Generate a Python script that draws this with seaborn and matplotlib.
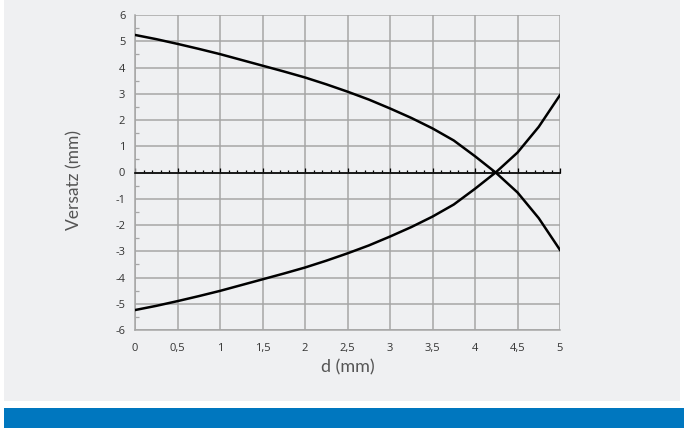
import matplotlib
matplotlib.use("Agg")
import matplotlib.pyplot as plt
from matplotlib.patches import Rectangle
from matplotlib.ticker import FixedLocator, MultipleLocator
import seaborn as sns
import pandas as pd

# data
d_mm = [0, 0.25, 0.5, 0.75, 1, 1.25, 1.5, 1.75, 2, 2.25, 2.5, 2.75, 3,
        3.25, 3.5, 3.75, 4, 4.25, 4.5, 4.75, 5]
upper = [5.24, 5.08, 4.9, 4.71, 4.51, 4.29, 4.07, 3.85, 3.62, 3.36, 3.08,
         2.78, 2.44, 2.08, 1.68, 1.22, 0.62, -0.02, -0.76, -1.74, -2.95]
lower = [-5.24, -5.08, -4.9, -4.71, -4.51, -4.29, -4.07, -3.85, -3.62, -3.36,
         -3.08, -2.78, -2.44, -2.08, -1.68, -1.22, -0.62, 0.02, 0.76, 1.74, 2.95]
x_ticks = [0, 0.5, 1, 1.5, 2, 2.5, 3, 3.5, 4, 4.5, 5]
x_tick_labels = ["0", "0,5", "1", "1,5", "2", "2,5", "3", "3,5", "4", "4,5", "5"]
y_ticks = [-6, -5, -4, -3, -2, -1, 0, 1, 2, 3, 4, 5, 6]
y_tick_labels = [str(v) for v in y_ticks]

df = pd.DataFrame({
    "d": d_mm * 2,
    "v": upper + lower,
    "curve": ["upper"] * len(d_mm) + ["lower"] * len(d_mm),
})

W, H = 684, 428
fig = plt.figure(figsize=(W / 100, H / 100), dpi=100)
fig.patch.set_facecolor("white")

GRAY_BG = "#eff0f2"
BLUE = "#0077bf"
GRID = "#a6a6a6"
TXT = "#333333"
FAM = ["Open Sans", "DejaVu Sans"]

fig.patches.append(Rectangle((4 / W, 1 - 401 / H), 676 / W, 401 / H,
                             transform=fig.transFigure, facecolor=GRAY_BG,
                             edgecolor="none", zorder=-10))
fig.patches.append(Rectangle((4 / W, 0), 680 / W, 20 / H,
                             transform=fig.transFigure, facecolor=BLUE,
                             edgecolor="none", zorder=-10))

ax = fig.add_axes([135 / W, 1 - 330 / H, 425 / W, 315 / H])
ax.set_facecolor("none")

sns.lineplot(data=df, x="d", y="v", units="curve", estimator=None,
             color="black", linewidth=1.8, ax=ax, sort=False, zorder=5)
for ln in ax.get_lines():
    ln.set_solid_joinstyle("round")

ax.set_xlim(0, 5)
ax.set_ylim(-6, 6)
ax.xaxis.set_major_locator(FixedLocator(x_ticks))
ax.set_xticklabels(x_tick_labels)
ax.yaxis.set_major_locator(FixedLocator(y_ticks))
ax.set_yticklabels(y_tick_labels)
ax.yaxis.set_minor_locator(MultipleLocator(0.5))
ax.xaxis.set_minor_locator(MultipleLocator(0.1))

ax.grid(True, which="major", color=GRID, linewidth=1.1, zorder=0)
ax.set_axisbelow(True)

for s in ["left", "bottom", "right"]:
    ax.spines[s].set_color(GRID)
    ax.spines[s].set_linewidth(1.1)
ax.spines["right"].set_visible(False)
# zero line carries the fine ticks
ax.spines["top"].set_position(("data", 0))
ax.spines["top"].set_color("black")
ax.spines["top"].set_linewidth(1.2)
ax.spines["top"].set_zorder(4)

ax.tick_params(axis="x", which="both", top=True, bottom=False,
               labeltop=False, labelbottom=True, direction="out",
               color="black", width=0.9)
ax.tick_params(axis="x", which="major", length=3.5, pad=6,
               labelsize=8, labelcolor=TXT)
ax.tick_params(axis="x", which="minor", length=2.5)
ax.tick_params(axis="y", which="major", length=0, pad=7,
               labelsize=8, labelcolor=TXT)
ax.tick_params(axis="y", which="minor", left=True, direction="in",
               length=3, color=GRID, width=0.9)

for lab in ax.get_xticklabels() + ax.get_yticklabels():
    lab.set_fontfamily(FAM)

ax.set_xlabel("")
ax.set_ylabel("")
fig.text(347.5 / W, 1 - 367 / H, "d (mm)", ha="center", va="center",
         fontsize=13, color="#555555", family=["Lato", "DejaVu Sans"])
fig.text(74 / W, 1 - 180 / H, "Versatz (mm)", ha="center", va="center",
         rotation=90, fontsize=12.5, color="#555555",
         family=["Lato", "DejaVu Sans"])

fig.savefig("out.png", dpi=100)
